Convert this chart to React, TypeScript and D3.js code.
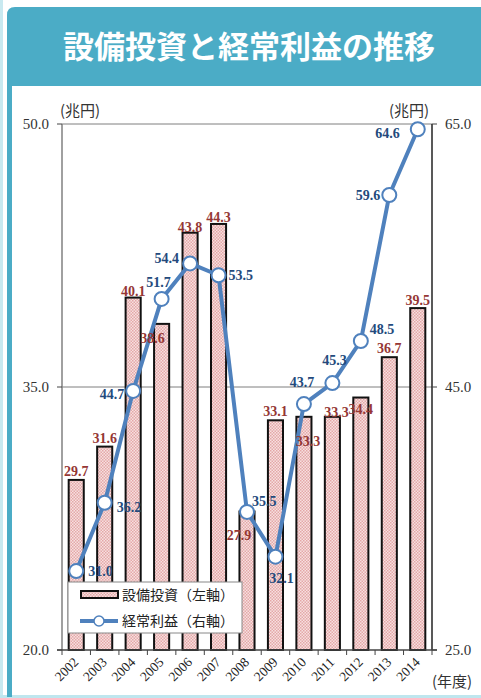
import React from "react";
import * as d3 from "d3";

const years = ["2002","2003","2004","2005","2006","2007","2008","2009","2010","2011","2012","2013","2014"];
const capex = [29.7, 31.6, 40.1, 38.6, 43.8, 44.3, 27.9, 33.1, 33.3, 33.3, 34.4, 36.7, 39.5];
const profit = [31.0, 36.2, 44.7, 51.7, 54.4, 53.5, 35.5, 32.1, 43.7, 45.3, 48.5, 59.6, 64.6];
const leftTicks = [20, 35, 50];
const rightTicks = [25, 45, 65];

// label placement (dx from band center, dy from mark, anchor)
const barLabelPos: [number, number, string][] = [
  [0, -4, "middle"], [0, -4, "middle"], [0, -2, "middle"], [-9, 19, "middle"], [0, -1, "middle"],
  [0, -2, "middle"], [-8, 29, "middle"], [0, -4, "middle"], [4, 29, "middle"], [4, 0, "middle"],
  [0, 16, "middle"], [0, -4, "middle"], [0, -3, "middle"],
];
const lineLabelPos: [number, number, string][] = [
  [12, 5, "start"], [12, 9, "start"], [-9, 8, "end"], [-3, -12, "middle"], [-11, 0, "end"],
  [10, 5, "start"], [5, -6, "start"], [6, 26, "middle"], [-2, -17, "middle"], [2, -18, "middle"],
  [9, -7, "start"], [-9, 5, "end"], [-18, 9, "end"],
];

export default function App() {
  const W = 481, H = 698;
  const x0 = 62, x1 = 432, yTop = 124, yBot = 650;
  const x = d3.scaleBand<string>().domain(years).range([x0, x1]).paddingInner(0.47).paddingOuter(0.235);
  const band = d3.scaleBand<string>().domain(years).range([x0, x1]);
  const yL = d3.scaleLinear().domain([20, 50]).range([yBot, yTop]);
  const yR = d3.scaleLinear().domain([25, 65]).range([yBot, yTop]);
  const cx = (y: string) => (band(y) as number) + band.bandwidth() / 2;
  const line = d3.line<number>().x((_, i) => cx(years[i])).y((d) => yR(d));
  const serif = "'Liberation Serif', 'Times New Roman', serif";
  const sans = "'Noto Sans CJK JP', 'Noto Sans', sans-serif";
  const teal = "#4bacc6";
  const blue = "#4f81bd";

  return (
    <svg width={W} height={H} style={{ position: "absolute", left: 0, top: 0, background: "#fff" }}>
      <defs>
        <pattern id="dots" width="3" height="3" patternUnits="userSpaceOnUse">
          <rect width="3" height="3" fill="#f7e0e0" />
          <rect width="1.5" height="1.5" fill="#e4a8a8" />
          <rect x="1.5" y="1.5" width="1.5" height="1.5" fill="#e4a8a8" />
        </pattern>
      </defs>
      {/* frame */}
      <rect x={0} y={0} width={3} height={H} fill="#c8e9f0" />
      <rect x={0} y={695} width={W} height={3} fill="#bfe6ee" />
      <rect x={7} y={80} width={5} height={617} fill={teal} />
      <path d={`M7,${86} L7,15 Q7,7 15,7 L${W},7 L${W},86 Z`} fill={teal} />
      <text x={249} y={58} textAnchor="middle" fill="#fff" fontFamily={sans} fontWeight="bold" fontSize={31}>
        設備投資と経常利益の推移
      </text>

      {/* grid */}
      {leftTicks.slice(1).map((t) => (
        <line key={t} x1={x0} x2={x1} y1={yL(t)} y2={yL(t)} stroke="#7f7f7f" strokeWidth={1} />
      ))}

      {/* bars */}
      {years.map((yr, i) => (
        <rect key={yr} x={x(yr)} y={yL(capex[i])} width={x.bandwidth()} height={yBot - yL(capex[i])}
          fill="url(#dots)" stroke="#111" strokeWidth={2} />
      ))}

      {/* axes */}
      <line x1={x0} x2={x0} y1={yTop} y2={yBot} stroke="#808080" strokeWidth={1.5} />
      <line x1={x1} x2={x1} y1={yTop} y2={yBot} stroke="#222" strokeWidth={1.5} />
      <line x1={x0 - 5} x2={x1 + 5} y1={yBot} y2={yBot} stroke="#444" strokeWidth={1.5} />
      {leftTicks.map((t) => (
        <g key={"l" + t}>
          <line x1={x0 - 5} x2={x0} y1={yL(t)} y2={yL(t)} stroke="#444" />
          <text x={49} y={yL(t) + 5} textAnchor="end" fontFamily={serif} fontSize={15} fill="#333">{t.toFixed(1)}</text>
        </g>
      ))}
      {rightTicks.map((t) => (
        <g key={"r" + t}>
          <line x1={x1} x2={x1 + 5} y1={yR(t)} y2={yR(t)} stroke="#444" />
          <text x={445} y={yR(t) + 5} textAnchor="start" fontFamily={serif} fontSize={15} fill="#333">{t.toFixed(1)}</text>
        </g>
      ))}
      {years.map((yr) => (
        <line key={"t" + yr} x1={(band(yr) as number)} x2={(band(yr) as number)} y1={yBot} y2={yBot + 5} stroke="#444" />
      ))}
      <line x1={x1} x2={x1} y1={yBot} y2={yBot + 5} stroke="#444" />
      {years.map((yr) => (
        <text key={"x" + yr} transform={`translate(${cx(yr) + 3},${yBot + 13}) rotate(-45)`} textAnchor="end"
          fontFamily={serif} fontSize={13.5} fill="#222">{yr}</text>
      ))}
      <text x={60} y={116} fontFamily={sans} fontSize={15} fill="#333">(兆円)</text>
      <text x={389} y={116} fontFamily={sans} fontSize={15} fill="#333">(兆円)</text>
      <text x={432} y={687} fontFamily={sans} fontSize={15} fill="#333">(年度)</text>

      {/* line */}
      <path d={line(profit) || ""} fill="none" stroke={blue} strokeWidth={4} strokeLinejoin="round" />
      {profit.map((v, i) => (
        <circle key={"c" + i} cx={cx(years[i])} cy={yR(v)} r={7} fill="#fff" stroke={blue} strokeWidth={2} />
      ))}

      {/* legend */}
      <rect x={68} y={582} width={174} height={51} fill="#fff" stroke="#888" strokeWidth={1} />
      <rect x={81} y={591} width={37} height={7} fill="url(#dots)" stroke="#111" strokeWidth={2} />
      <text x={122} y={600} fontFamily={sans} fontSize={14} fill="#222">設備投資（左軸）</text>
      <line x1={80} x2={118} y1={621} y2={621} stroke={blue} strokeWidth={4} />
      <circle cx={99} cy={621} r={5} fill="#fff" stroke={blue} strokeWidth={1.5} />
      <text x={122} y={626} fontFamily={sans} fontSize={14} fill="#222">経常利益（右軸）</text>

      {/* labels */}
      {capex.map((v, i) => (
        <text key={"bl" + i} x={cx(years[i]) + barLabelPos[i][0]} y={yL(v) + barLabelPos[i][1]}
          textAnchor={barLabelPos[i][2] as any} fontFamily={serif} fontWeight="bold" fontSize={14} fill="#953735">
          {v.toFixed(1)}
        </text>
      ))}
      {profit.map((v, i) => (
        <text key={"ll" + i} x={cx(years[i]) + lineLabelPos[i][0]} y={yR(v) + lineLabelPos[i][1]}
          textAnchor={lineLabelPos[i][2] as any} fontFamily={serif} fontWeight="bold" fontSize={14} fill="#244a7c">
          {v.toFixed(1)}
        </text>
      ))}
    </svg>
  );
}
